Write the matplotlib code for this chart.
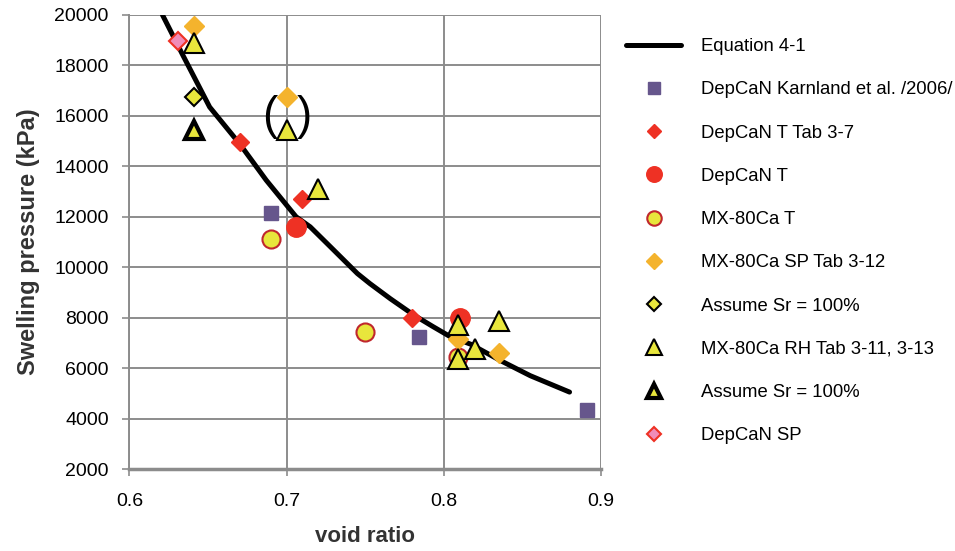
import matplotlib
matplotlib.use('Agg')
import matplotlib.pyplot as plt

plt.rcParams['font.family'] = ['Liberation Sans', 'DejaVu Sans']

# Equation 4-1 curve
eq_e = [0.621, 0.634, 0.651, 0.670, 0.687, 0.706, 0.715, 0.728, 0.745, 0.753,
        0.766, 0.781, 0.793, 0.804, 0.817, 0.836, 0.855, 0.880]
eq_p = [20000, 18400, 16350, 14900, 13450, 12000, 11600, 10800, 9750, 9350,
        8750, 8100, 7650, 7250, 6950, 6300, 5700, 5050]

karnland_e = [0.690, 0.784, 0.891]
karnland_p = [12150, 7250, 4350]

depcan_t_tab_e = [0.670, 0.710, 0.780]
depcan_t_tab_p = [14950, 12700, 8000]

depcan_t_e = [0.706, 0.810]
depcan_t_p = [11600, 8000]

mx_t_e = [0.690, 0.750, 0.809]
mx_t_p = [11100, 7450, 6450]

mx_sp_e = [0.641, 0.700, 0.809, 0.835]
mx_sp_p = [19550, 16750, 7150, 6600]

assume_dia_e = [0.641]
assume_dia_p = [16750]

mx_rh_e = [0.641, 0.700, 0.720, 0.809, 0.835, 0.820, 0.809]
mx_rh_p = [18900, 15450, 13100, 7700, 7850, 6750, 6350]

assume_tri_e = [0.641]
assume_tri_p = [15450]

depcan_sp_e = [0.631]
depcan_sp_p = [18950]

fig = plt.figure(figsize=(9.55, 5.51), dpi=100)
ax = fig.add_axes([0.1356, 0.1488, 0.4937, 0.824])

grid_c = '#8c8c8c'
ax.plot(eq_e, eq_p, color='black', lw=3.6, label='Equation 4-1', zorder=3,
        solid_capstyle='round', solid_joinstyle='round')
ax.plot(karnland_e, karnland_p, ls='none', marker='s', ms=10.5, color='#66568c',
        mec='#66568c', label='DepCaN Karnland et al. /2006/', zorder=4)
ax.plot(depcan_t_tab_e, depcan_t_tab_p, ls='none', marker='D', ms=9.5, color='#ee3124',
        mec='#ee3124', label='DepCaN T Tab 3-7', zorder=4)
ax.plot(depcan_t_e, depcan_t_p, ls='none', marker='o', ms=14, color='#ee3124',
        mec='#ee3124', label='DepCaN T', zorder=4)
ax.plot(mx_t_e, mx_t_p, ls='none', marker='o', ms=13, color='#e8e63c',
        mec='#c0272d', mew=1.5, label='MX-80Ca T', zorder=4)
ax.plot(mx_sp_e, mx_sp_p, ls='none', marker='D', ms=10, color='#f4b32d',
        mec='#f4b32d', label='MX-80Ca SP Tab 3-12', zorder=4)
ax.plot(assume_dia_e, assume_dia_p, ls='none', marker='D', ms=9, color='#e8e63c',
        mec='black', mew=1.5, label='Assume Sr = 100%', zorder=4)
ax.plot(mx_rh_e, mx_rh_p, ls='none', marker='^', ms=14, color='#e8e63c',
        mec='black', mew=1.5, label='MX-80Ca RH Tab 3-11, 3-13', zorder=4)
ax.plot(assume_tri_e, assume_tri_p, ls='none', marker='^', ms=13, color='#e8e63c',
        mec='black', mew=3, label='Assume Sr = 100%', zorder=4)
ax.plot(depcan_sp_e, depcan_sp_p, ls='none', marker='D', ms=9.5, color='#f08cb8',
        mec='#ee3124', mew=1.5, label='DepCaN SP', zorder=4)

# parentheses around the doubtful pair
ax.text(0.6895, 15950, '(', fontsize=33, ha='center', va='center', zorder=5)
ax.text(0.7115, 15950, ')', fontsize=33, ha='center', va='center', zorder=5)

ax.set_xlim(0.6, 0.9)
ax.set_ylim(2000, 20000)
ax.set_xticks([0.6, 0.7, 0.8, 0.9])
ax.set_xticklabels(['0.6', '0.7', '0.8', '0.9'])
ax.set_yticks(range(2000, 20001, 2000))
ax.grid(True, color=grid_c, lw=1.4, zorder=0)
ax.set_axisbelow(True)
for s in ['top', 'right']:
    ax.spines[s].set_visible(False)
ax.spines['left'].set_color(grid_c)
ax.spines['left'].set_linewidth(1.4)
ax.spines['bottom'].set_color(grid_c)
ax.spines['bottom'].set_linewidth(2.5)
ax.tick_params(axis='both', colors=grid_c, length=5, width=1.2, labelsize=14,
               labelcolor='black', direction='out')
ax.tick_params(axis='y', pad=10)
ax.tick_params(axis='x', pad=12)

ax.set_xlabel('void ratio', fontsize=16, fontweight='bold', color='#333333', labelpad=12)
ax.set_ylabel('Swelling pressure (kPa)', fontsize=17, fontweight='bold', color='#333333',
              labelpad=10)

leg = ax.legend(loc='upper left', bbox_to_anchor=(0.648, 0.944),
                bbox_transform=fig.transFigure, frameon=False, fontsize=13.3,
                labelspacing=1.42, handlelength=2.97, handletextpad=1.08,
                markerscale=0.8, borderaxespad=0)

fig.savefig('out.png', dpi=100)
